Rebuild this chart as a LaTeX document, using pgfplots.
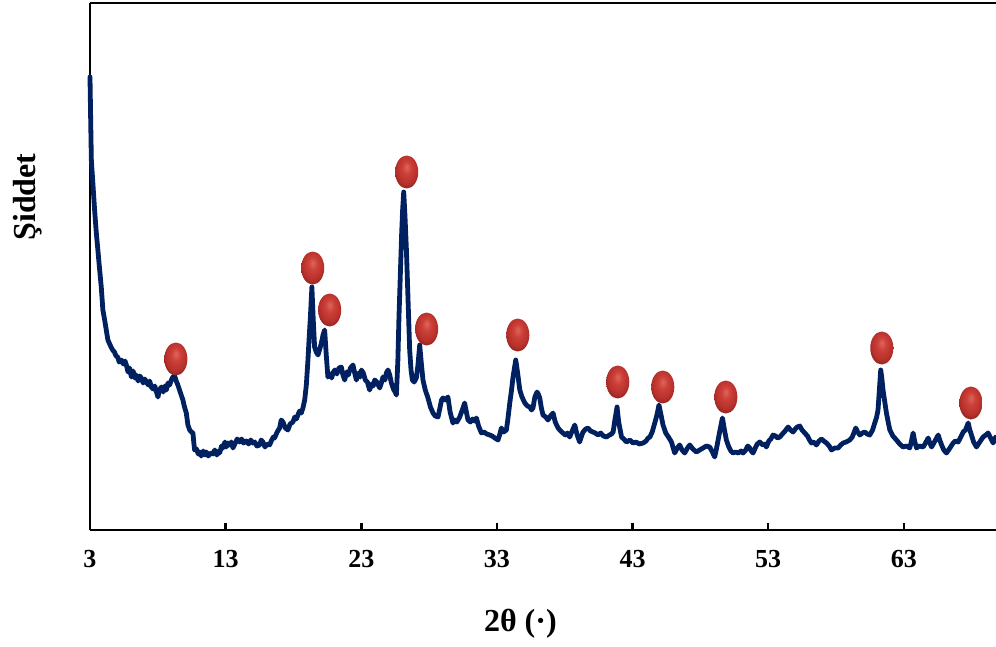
\documentclass[border=0pt]{standalone}
\usepackage{fontspec}
\setmainfont{Liberation Serif}
\usepackage{pgfplots}
\pgfplotsset{compat=1.18}
\definecolor{xrdline}{RGB}{0,32,96}

% glossy red marker
\pgfdeclareradialshading{redballshade}{\pgfpoint{0bp}{8bp}}{%
  rgb(0bp)=(0.87,0.40,0.36); rgb(10bp)=(0.80,0.25,0.22);
  rgb(22bp)=(0.72,0.19,0.17); rgb(32bp)=(0.50,0.12,0.11);
  rgb(50bp)=(0.50,0.12,0.11)}
\pgfdeclareplotmark{redball}{%
  \pgfpathcircle{\pgfpointorigin}{\pgfplotmarksize}%
  \pgfshadepath{redballshade}{0}\pgfusepath{discard}}

\begin{document}
\begin{tikzpicture}
\useasboundingbox (-90pt,-116pt) rectangle (906pt,530pt);
\begin{axis}[
  scale only axis, width=906pt, height=527pt,
  xmin=3, xmax=69.8, ymin=0, ymax=527,
  axis x line*=box, axis y line*=left,
  axis line style={black, line width=2.7pt, -},
  xtick={3,13,...,63}, ytick=\empty,
  tick pos=left, tick align=inside,
  major tick length=7pt,
  tick style={black, line width=2.5pt},
  /pgf/number format/assume math mode=true,
  xticklabel style={font=\fontsize{26}{30}\selectfont\bfseries, yshift=-17pt},
  xlabel={2θ (·)},
  xlabel style={font=\fontsize{32}{38}\selectfont\bfseries,
    at={(axis description cs:0.475,0)}, anchor=center, yshift=-94pt},
  ylabel={Şiddet},
  ylabel style={font=\fontsize{32}{38}\selectfont\bfseries,
    at={(axis description cs:-0.0684,0.632)}, anchor=center},
  clip=false,
]
% diffraction trace, y in pixel-like intensity units
\addplot[xrdline, line width=4.8pt, line join=round, line cap=round] coordinates {
(3.00,453) (3.05,410) (3.10,370) (3.22,345) (3.34,320) (3.46,298) (3.58,280)
(3.70,262) (3.83,243) (3.95,220) (4.08,210) (4.20,200) (4.32,190) (4.45,186)
(4.55,183) (4.67,180) (4.80,178) (4.92,174) (5.04,173) (5.15,168) (5.31,170)
(5.45,166) (5.58,169) (5.68,165) (5.80,158) (5.92,162) (6.05,153) (6.18,159)
(6.30,152) (6.41,155) (6.55,149) (6.68,154) (6.78,152) (6.92,147) (7.05,151)
(7.15,148) (7.30,145) (7.40,149) (7.52,143) (7.65,141) (7.78,144) (7.90,138)
(8.01,133) (8.12,140) (8.26,143) (8.40,138) (8.52,144) (8.63,140) (8.75,147)
(8.87,145) (9.00,150) (9.11,153) (9.24,154) (9.36,149) (9.48,145) (9.65,138)
(9.85,130) (9.95,124) (10.10,117) (10.22,105) (10.35,100) (10.48,98) (10.59,97)
(10.65,88) (10.71,80) (10.85,81) (10.98,76) (11.08,78) (11.20,74) (11.35,79)
(11.48,75) (11.58,78) (11.72,74) (11.88,77) (12.04,76) (12.20,80) (12.35,75)
(12.50,79) (12.56,77) (12.70,84) (12.80,82) (12.95,88) (13.05,83) (13.17,87)
(13.30,85) (13.42,88) (13.54,82) (13.68,86) (13.85,91) (14.03,88) (14.18,91)
(14.32,87) (14.53,89) (14.70,86) (14.85,90) (15.01,87) (15.15,88) (15.30,84)
(15.51,85) (15.62,90) (15.75,88) (15.90,83) (16.05,86) (16.24,85) (16.40,90)
(16.52,93) (16.61,92) (16.80,98) (16.98,102) (17.10,110) (17.23,108) (17.40,102)
(17.59,100) (17.75,106) (17.96,108) (18.10,113) (18.22,111) (18.33,115) (18.45,119)
(18.58,117) (18.70,122) (18.83,130) (18.95,145) (19.07,170) (19.17,195) (19.25,213)
(19.36,243) (19.46,210) (19.56,183) (19.68,178) (19.81,175) (19.92,180) (20.06,187)
(20.18,195) (20.30,200) (20.42,175) (20.54,153) (20.70,156) (20.82,152) (20.91,157)
(21.05,160) (21.20,156) (21.35,162) (21.53,163) (21.65,155) (21.78,150) (21.92,158)
(22.05,155) (22.20,162) (22.39,165) (22.50,158) (22.64,150) (22.80,157) (22.92,153)
(23.01,160) (23.15,157) (23.30,150) (23.45,148) (23.62,140) (23.75,146) (23.88,144)
(23.99,150) (24.15,148) (24.36,142) (24.48,147) (24.60,153) (24.75,150) (24.85,157)
(24.97,160) (25.10,155) (25.22,147) (25.40,140) (25.50,138) (25.59,135) (25.70,170)
(25.78,213) (25.88,255) (25.98,297) (26.05,320) (26.13,338) (26.22,315) (26.33,280)
(26.45,230) (26.57,180) (26.67,160) (26.77,150) (26.90,148) (27.06,152) (27.18,165)
(27.31,185) (27.42,168) (27.55,150) (27.72,140) (27.92,132) (28.10,123) (28.29,117)
(28.45,114) (28.66,113) (28.80,122) (28.92,130) (29.02,132) (29.20,130) (29.39,133)
(29.55,118) (29.76,107) (29.90,110) (30.05,108) (30.26,113) (30.45,120) (30.62,127)
(30.75,118) (30.87,110) (31.05,108) (31.20,111) (31.35,109) (31.49,112) (31.65,104)
(31.86,97) (32.05,98) (32.25,96) (32.47,95) (32.65,94) (32.85,92) (33.08,90)
(33.20,95) (33.33,102) (33.50,98) (33.70,100) (33.82,112) (33.95,127) (34.08,140)
(34.19,153) (34.39,170) (34.52,158) (34.69,140) (34.85,133) (35.06,127) (35.25,124)
(35.43,123) (35.55,120) (35.66,122) (35.80,133) (35.96,138) (36.05,136) (36.16,132)
(36.28,122) (36.40,115) (36.60,113) (36.77,110) (36.95,114) (37.14,117) (37.30,108)
(37.51,102) (37.70,99) (37.87,97) (38.05,95) (38.20,97) (38.37,93) (38.55,99)
(38.74,105) (38.90,96) (39.10,88) (39.22,93) (39.35,98) (39.55,101) (39.72,102)
(39.90,99) (40.09,98) (40.25,97) (40.46,95) (40.65,97) (40.85,94) (41.08,93)
(41.30,95) (41.45,96) (41.57,98) (41.70,110) (41.86,123) (41.98,108) (42.19,93)
(42.35,91) (42.56,88) (42.80,90) (43.04,87) (43.25,88) (43.50,86) (43.78,87)
(44.00,89) (44.15,92) (44.28,93) (44.45,98) (44.64,107) (44.80,115) (44.95,125)
(45.10,115) (45.25,105) (45.45,97) (45.65,93) (45.87,88) (46.00,82) (46.11,77)
(46.30,82) (46.48,85) (46.65,80) (46.85,77) (47.05,82) (47.22,85) (47.45,81)
(47.71,78) (47.95,80) (48.20,82) (48.45,84) (48.69,83) (48.85,79) (49.06,73)
(49.20,82) (49.31,90) (49.45,100) (49.63,112) (49.78,100) (49.92,90) (50.10,83)
(50.25,79) (50.41,77) (50.60,78) (50.80,77) (51.00,79) (51.15,77) (51.35,80)
(51.50,84) (51.64,82) (51.75,79) (51.89,77) (52.05,82) (52.20,86) (52.38,88)
(52.60,85) (52.75,86) (52.87,83) (53.05,89) (53.20,91) (53.36,95) (53.55,94)
(53.70,92) (53.86,93) (54.05,96) (54.25,99) (54.47,103) (54.65,100) (54.84,98)
(55.00,101) (55.15,103) (55.33,104) (55.50,100) (55.70,97) (55.90,94) (56.05,90)
(56.19,87) (56.35,88) (56.56,85) (56.75,89) (56.93,91) (57.10,89) (57.30,87)
(57.50,84) (57.67,80) (57.90,82) (58.16,82) (58.35,85) (58.53,87) (58.75,88)
(59.02,90) (59.20,93) (59.35,98) (59.46,102) (59.60,98) (59.76,95) (59.95,97)
(60.12,98) (60.30,96) (60.49,95) (60.70,100) (60.86,107) (61.00,113) (61.10,120)
(61.20,140) (61.30,160) (61.38,152) (61.47,140) (61.60,128) (61.72,117) (61.85,108)
(61.97,100) (62.20,94) (62.46,90) (62.70,86) (62.95,83) (63.20,84) (63.44,82)
(63.55,88) (63.69,97) (63.80,89) (63.94,82) (64.15,84) (64.43,83) (64.60,87)
(64.80,92) (64.92,87) (65.05,83) (65.30,89) (65.54,95) (65.65,90) (65.79,85)
(65.95,80) (66.15,77) (66.40,82) (66.64,87) (66.80,89) (67.01,88) (67.20,93)
(67.38,98) (67.55,100) (67.75,107) (67.85,101) (67.99,95) (68.15,88) (68.36,83)
(68.60,88) (68.85,93) (69.05,95) (69.22,97) (69.40,92) (69.59,87) (69.78,93)
};
% phase markers
\addplot[only marks, mark=redball, mark size=16.5pt,
  mark options={xscale=0.7}] coordinates {
(9.33,171) (19.42,262) (20.67,220) (26.35,358) (27.82,201) (34.54,195)
(41.91,148) (45.23,143) (49.88,133) (61.38,182) (67.95,127)
};
\end{axis}
\end{tikzpicture}
\end{document}
